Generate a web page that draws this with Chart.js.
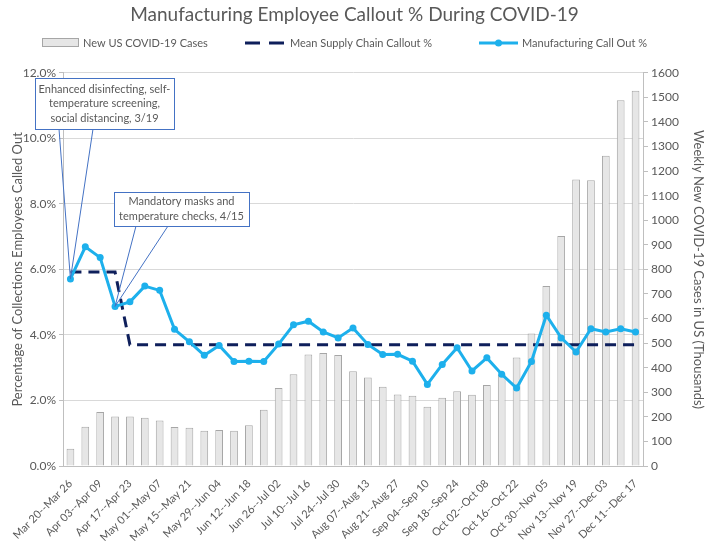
<!DOCTYPE html>
<html>
<head>
<meta charset="utf-8">
<script src="https://cdn.jsdelivr.net/npm/chart.js@4.4.0/dist/chart.umd.min.js"></script>
<style>
  html, body { margin: 0; padding: 0; background: #fff; }
</style>
</head>
<body>
<canvas id="graficaCallout" width="709" height="551"></canvas>
<script>
// semanas (etiquetas del eje x)
const semanas = [
  'Mar 20--Mar 26', 'Mar 27--Apr 02', 'Apr 03--Apr 09', 'Apr 10--Apr 16', 'Apr 17--Apr 23',
  'Apr 24--Apr 30', 'May 01--May 07', 'May 08--May 14', 'May 15--May 21', 'May 22--May 28',
  'May 29--Jun 04', 'Jun 05--Jun 11', 'Jun 12--Jun 18', 'Jun 19--Jun 25', 'Jun 26--Jul 02',
  'Jul 03--Jul 09', 'Jul 10--Jul 16', 'Jul 17--Jul 23', 'Jul 24--Jul 30', 'Jul 31--Aug 06',
  'Aug 07--Aug 13', 'Aug 14--Aug 20', 'Aug 21--Aug 27', 'Aug 28--Sep 03', 'Sep 04--Sep 10',
  'Sep 11--Sep 17', 'Sep 18--Sep 24', 'Sep 25--Oct 01', 'Oct 02--Oct 08', 'Oct 09--Oct 15',
  'Oct 16--Oct 22', 'Oct 23--Oct 29', 'Oct 30--Nov 05', 'Nov 06--Nov 12', 'Nov 13--Nov 19',
  'Nov 20--Nov 26', 'Nov 27--Dec 03', 'Dec 04--Dec 10', 'Dec 11--Dec 17'
];

// casos nuevos semanales en EEUU (miles)
const casosNuevos = [
  70, 160, 220, 201, 201, 196, 185, 159, 156, 143,
  146, 143, 166, 229, 317, 373, 454, 460, 452, 386,
  360, 322, 291, 286, 241, 278, 304, 290, 330, 370,
  442, 539, 732, 936, 1166, 1163, 1262, 1488, 1527
];

// media de la cadena de suministro (%)
const mediaCadena = [
  5.92, 5.92, 5.92, 5.92, 3.70, 3.70, 3.70, 3.70, 3.70, 3.70,
  3.70, 3.70, 3.70, 3.70, 3.70, 3.70, 3.70, 3.70, 3.70, 3.70,
  3.70, 3.70, 3.70, 3.70, 3.70, 3.70, 3.70, 3.70, 3.70, 3.70,
  3.70, 3.70, 3.70, 3.70, 3.70, 3.70, 3.70, 3.70, 3.70
];

// ausencias en manufactura (%)
const ausenciasManufactura = [
  5.71, 6.69, 6.36, 4.87, 5.01, 5.49, 5.36, 4.17, 3.79, 3.38,
  3.68, 3.19, 3.20, 3.19, 3.72, 4.31, 4.42, 4.09, 3.91, 4.21,
  3.71, 3.40, 3.41, 3.20, 2.49, 3.10, 3.61, 2.90, 3.30, 2.80,
  2.38, 3.19, 4.60, 3.91, 3.48, 4.19, 4.09, 4.19, 4.09
];

const fuente = 'Lato, "Open Sans", sans-serif';
const gris = '#595959';
const cian = '#1DB0EC';
const marino = '#0E1F5B';

// notas con flecha
const notas = [
  { idx: 0, caja: [35, 78, 139, 51], base: [59, 93],
    lineas: ['Enhanced disinfecting, self-', 'temperature screening,', 'social distancing, 3/19'] },
  { idx: 3, caja: [114, 192, 135, 34], base: [136, 168],
    lineas: ['Mandatory masks and', 'temperature checks, 4/15'] }
];

const leyendaPlugin = {
  id: 'leyenda',
  afterDraw(chart) {
    const ctx = chart.ctx;
    const y = 43;
    ctx.save();
    // caja gris
    ctx.fillStyle = '#E6E6E6';
    ctx.strokeStyle = '#A6A6A6';
    ctx.lineWidth = 1;
    ctx.fillRect(42.5, y - 4.5, 36, 8);
    ctx.strokeRect(42.5, y - 4.5, 36, 8);
    // discontinua
    ctx.strokeStyle = marino;
    ctx.lineWidth = 3;
    ctx.setLineDash([15, 9]);
    ctx.beginPath();
    ctx.moveTo(245, y); ctx.lineTo(284, y);
    ctx.stroke();
    ctx.setLineDash([]);
    // linea cian con punto
    ctx.strokeStyle = cian;
    ctx.beginPath();
    ctx.moveTo(479, y); ctx.lineTo(518, y);
    ctx.stroke();
    ctx.fillStyle = cian;
    ctx.beginPath();
    ctx.arc(498.5, y, 3.5, 0, Math.PI * 2);
    ctx.fill();
    // textos
    ctx.fillStyle = gris;
    ctx.font = '11px ' + fuente;
    ctx.textBaseline = 'middle';
    ctx.textAlign = 'left';
    ctx.fillText('New US COVID-19 Cases', 83, y);
    ctx.fillText('Mean Supply Chain Callout %', 290, y);
    ctx.fillText('Manufacturing Call Out %', 522, y);
    ctx.restore();
  }
};

const notasPlugin = {
  id: 'notas',
  afterDatasetsDraw(chart) {
    const ctx = chart.ctx;
    const meta = chart.getDatasetMeta(2);
    ctx.save();
    notas.forEach(n => {
      const p = meta.data[n.idx];
      const [x, y, w, h] = n.caja;
      ctx.strokeStyle = '#4472C4';
      ctx.lineWidth = 1;
      ctx.beginPath();
      ctx.moveTo(n.base[0], y + h);
      ctx.lineTo(p.x, p.y);
      ctx.lineTo(n.base[1], y + h);
      ctx.stroke();
      ctx.fillStyle = '#fff';
      ctx.fillRect(x + 0.5, y + 0.5, w, h);
      ctx.strokeRect(x + 0.5, y + 0.5, w, h);
      ctx.fillStyle = gris;
      ctx.font = '11px ' + fuente;
      ctx.textAlign = 'center';
      ctx.textBaseline = 'middle';
      const alto = 14.5;
      const y0 = y + h / 2 - (n.lineas.length - 1) * alto / 2;
      n.lineas.forEach((t, i) => ctx.fillText(t, x + w / 2, y0 + i * alto));
    });
    ctx.restore();
  }
};

const contexto = document.getElementById('graficaCallout').getContext('2d');
new Chart(contexto, {
  type: 'bar',
  data: {
    labels: semanas,
    datasets: [
      {
        label: 'New US COVID-19 Cases',
        data: casosNuevos,
        yAxisID: 'y2',
        backgroundColor: '#E6E6E6',
        borderColor: '#A6A6A6',
        borderWidth: 1,
        barPercentage: 0.52,
        categoryPercentage: 1,
        order: 3
      },
      {
        type: 'line',
        label: 'Mean Supply Chain Callout %',
        data: mediaCadena,
        yAxisID: 'y',
        borderColor: marino,
        borderWidth: 3,
        borderDash: [11, 7],
        pointRadius: 0,
        fill: false,
        order: 2
      },
      {
        type: 'line',
        label: 'Manufacturing Call Out %',
        data: ausenciasManufactura,
        yAxisID: 'y',
        borderColor: cian,
        backgroundColor: cian,
        borderWidth: 3,
        pointRadius: 3.5,
        pointBorderWidth: 0,
        fill: false,
        order: 1
      }
    ]
  },
  options: {
    responsive: false,
    animation: false,
    layout: { padding: 0 },
    plugins: {
      legend: { display: false },
      tooltip: { enabled: false },
      title: {
        display: true,
        text: 'Manufacturing Employee Callout % During COVID-19',
        color: gris,
        font: { family: fuente, size: 19, weight: 'normal' },
        padding: { top: 3, bottom: 47 }
      }
    },
    scales: {
      x: {
        grid: { display: false },
        border: { color: '#BFBFBF' },
        ticks: {
          autoSkip: false,
          maxRotation: 45,
          minRotation: 45,
          color: gris,
          font: { family: fuente, size: 11 },
          callback: (v, i) => (i % 2 === 0 ? semanas[i] : '')
        },
        afterFit: s => { s.height = 85; }
      },
      y: {
        position: 'left',
        min: 0,
        max: 12,
        ticks: {
          stepSize: 2,
          color: gris,
          font: { family: fuente, size: 12 },
          callback: v => v.toFixed(1) + '%'
        },
        grid: { color: '#D9D9D9', tickColor: '#BFBFBF', tickLength: 4 },
        border: { color: '#BFBFBF' },
        title: {
          display: true,
          text: 'Percentage of Collections Employees Called Out',
          color: gris,
          font: { family: fuente, size: 13 },
          padding: { top: 10, bottom: 0 }
        },
        afterFit: s => { s.width = 63; }
      },
      y2: {
        position: 'right',
        min: 0,
        max: 1600,
        ticks: {
          stepSize: 100,
          color: gris,
          font: { family: fuente, size: 12 },
          callback: v => String(v)
        },
        grid: { drawOnChartArea: false, color: '#BFBFBF', tickLength: 5 },
        border: { color: '#BFBFBF' },
        title: {
          display: true,
          text: 'Weekly New COVID-19 Cases in US (Thousands)',
          color: gris,
          font: { family: fuente, size: 13 },
          padding: { top: 3, bottom: 0 }
        },
        afterFit: s => { s.width = 66; }
      }
    }
  },
  plugins: [notasPlugin, leyendaPlugin]
});
</script>
</body>
</html>
